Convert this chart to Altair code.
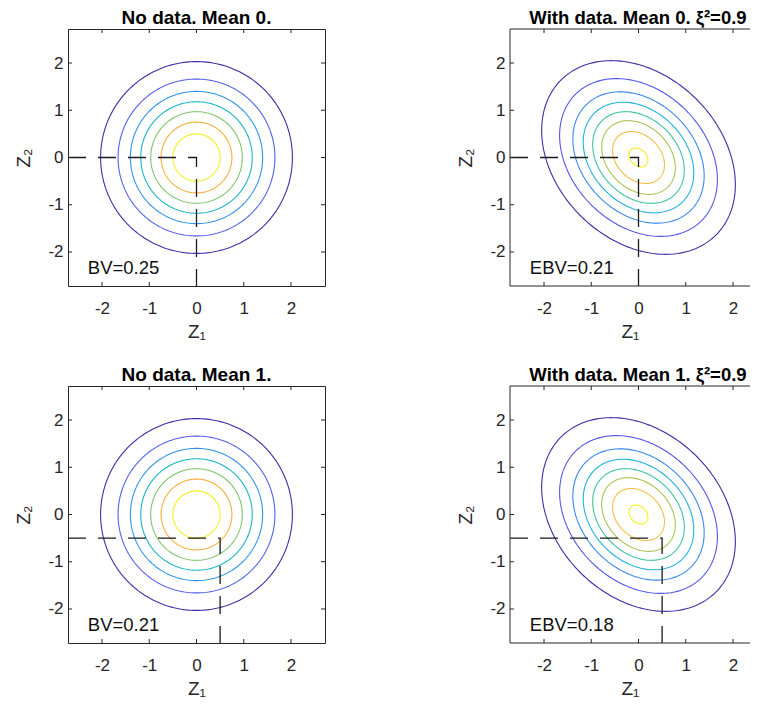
import altair as alt
import numpy as np
import pandas as pd

# ---- values ----
titles = ["No data. Mean 0.", "With data. Mean 0.  \u03be\u00b2=0.9",
          "No data. Mean 1.", "With data. Mean 1.  \u03be\u00b2=0.9"]
title_sizes = [19, 18.5, 19, 18.5]
labels = ["BV=0.25", "EBV=0.21", "BV=0.21", "EBV=0.18"]
kinds = ["none", "data", "none", "data"]
cut_x = [0.0, 0.0, 0.5, 0.5]
cut_y = [0.0, 0.0, -0.5, -0.5]

# contour "radii" (Mahalanobis distance of each contour) and colours
radii_none = [2.03, 1.66, 1.40, 1.18, 0.97, 0.75, 0.50]
colors_none = ["#3e2ea6", "#5462ee", "#2f93ea", "#17b6c4", "#7fc56a", "#f7ae3a", "#f4f01a"]
rho_none = 0.0
radii_data = [2.05, 1.67, 1.39, 1.17, 0.97, 0.78, 0.55, 0.20]
colors_data = ["#3e2ea6", "#5258ea", "#3a88ef", "#1fb2dc", "#3fc49c", "#a9c452", "#f8bd45", "#f4f01a"]
rho_data = -0.28

tick_vals = [-2, -1, 0, 1, 2]
LIM = 2.72
# the right-hand panels are cut by the page edge in the reference
x_hi = [LIM, 2.36, LIM, 2.36]
W_full, H = 257, 257
AX = "#262626"
FONT = "Liberation Sans"


def contour_df(radii, colors, rho):
    t = np.linspace(0, 2 * np.pi, 241)
    rows = []
    for j, (r, c) in enumerate(zip(radii, colors)):
        xs = r * np.cos(t)
        ys = r * (rho * np.cos(t) + np.sqrt(1 - rho ** 2) * np.sin(t))
        for k, (x, y) in enumerate(zip(xs, ys)):
            rows.append({"level": j, "k": k, "x": x, "y": y, "col": c})
    return pd.DataFrame(rows)


dfs = {"none": contour_df(radii_none, colors_none, rho_none),
       "data": contour_df(radii_data, colors_data, rho_data)}

tick_df = pd.DataFrame({"v": tick_vals})
LBL = "datum.value + ''"


def panel(i):
    W = round(W_full * (x_hi[i] + LIM) / (2 * LIM))
    right_cut = x_hi[i] < LIM
    xs = alt.Scale(domain=[-LIM, x_hi[i]], nice=False, zero=False)
    ys = alt.Scale(domain=[-LIM, LIM], nice=False, zero=False)
    df = dfs[kinds[i]]
    contours = alt.Chart(df).mark_line(strokeWidth=1.1, clip=True).encode(
        x=alt.X("x:Q", scale=xs, axis=alt.Axis(values=tick_vals, title="Z\u2081", labelExpr=LBL)),
        y=alt.Y("y:Q", scale=ys, axis=alt.Axis(values=tick_vals, title="Z\u2082", labelExpr=LBL)),
        detail="level:N",
        order="k:Q",
        color=alt.Color("col:N", scale=None),
    )
    dash_df = pd.DataFrame({"k": [0, 1, 2],
                            "x": [-LIM, cut_x[i], cut_x[i]],
                            "y": [cut_y[i], cut_y[i], -LIM]})
    dash = alt.Chart(dash_df).mark_line(
        strokeDash=[18, 12], color="#1a1a1a", strokeWidth=1.3
    ).encode(x=alt.X("x:Q", scale=xs), y=alt.Y("y:Q", scale=ys), order="k:Q")
    txt = alt.Chart(pd.DataFrame({"x": [-2.3], "y": [-2.33], "t": [labels[i]]})).mark_text(
        align="left", baseline="middle", fontSize=18.5, font=FONT, color="#111"
    ).encode(x=alt.X("x:Q", scale=xs), y=alt.Y("y:Q", scale=ys), text="t:N")
    tb = alt.Chart(tick_df).mark_rule(color=AX, strokeWidth=1)
    layers = [contours, dash, txt,
              tb.encode(x=alt.X("v:Q", scale=xs), y=alt.value(0), y2=alt.value(4)),
              tb.encode(x=alt.X("v:Q", scale=xs), y=alt.value(H), y2=alt.value(H - 4)),
              tb.encode(y=alt.Y("v:Q", scale=ys), x=alt.value(0), x2=alt.value(4))]
    border = alt.Chart(pd.DataFrame({"a": [0]})).mark_rule(color=AX, strokeWidth=1)
    if right_cut:
        layers += [border.encode(x=alt.value(0), x2=alt.value(W), y=alt.value(0)),
                   border.encode(x=alt.value(0), x2=alt.value(W), y=alt.value(H)),
                   border.encode(x=alt.value(0), y=alt.value(0), y2=alt.value(H))]
    else:
        layers += [tb.encode(y=alt.Y("v:Q", scale=ys), x=alt.value(W), x2=alt.value(W - 4))]
    dx = round((W_full - W) / 2)
    props = dict(
        width=W, height=H,
        title=alt.TitleParams(titles[i], fontSize=title_sizes[i], fontWeight="bold", font=FONT,
                              color="#000", anchor="middle", offset=1, dx=dx),
    )
    if right_cut:
        props["view"] = alt.ViewBackground(stroke=None, strokeWidth=0)
    return alt.layer(*layers).properties(**props)


row1 = alt.hconcat(panel(0), panel(1), spacing=130)
row2 = alt.hconcat(panel(2), panel(3), spacing=130)
chart = alt.vconcat(row1, row2, spacing=23).properties(
    padding={"left": 6, "top": 0, "right": 0, "bottom": 0}
).configure_view(stroke=AX, strokeWidth=1).configure_axis(
    ticks=False, domain=False, grid=False,
    labelFont=FONT, labelFontSize=17, labelColor=AX, labelPadding=5,
    titleFont=FONT, titleFontSize=19, titleFontWeight="normal", titleColor=AX,
    titlePadding=14,
).configure_axisX(labelPadding=14, titlePadding=6)

chart.save("out.html", embed_options={"renderer": "svg", "actions": False})
